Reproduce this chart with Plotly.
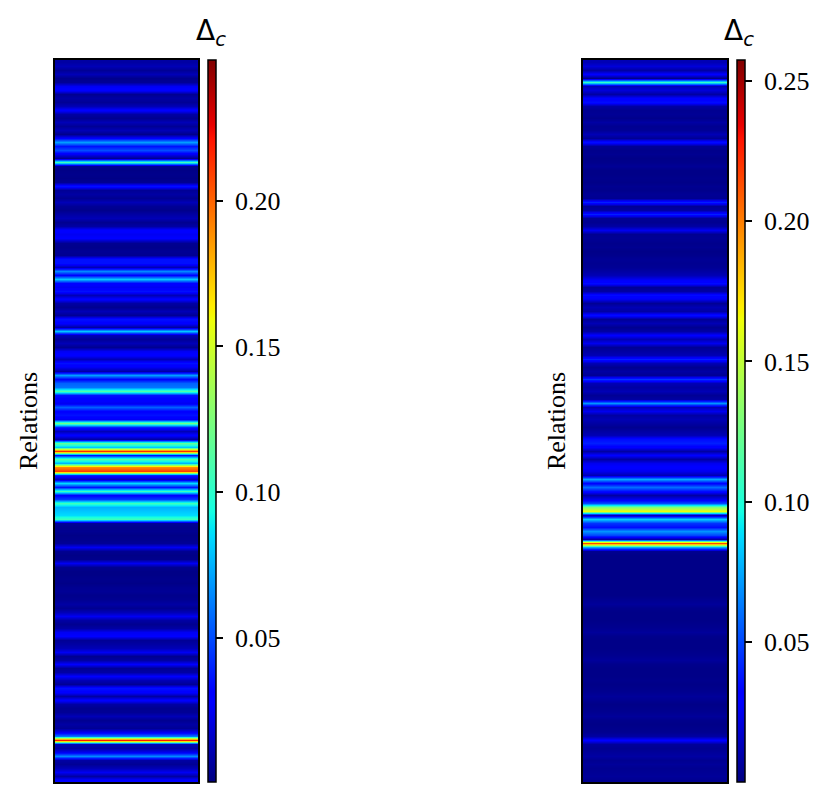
import plotly.graph_objects as go

# Δc par relation, lus de haut en bas (ligne 0 = haut)
delta_gauche = [
    0.008, 0.012, 0.005, 0.012, 0.003, 0.005, 0.025, 0.03, 0.004, 0.008,
    0.005, 0.012, 0.03, 0.008, 0.004, 0.012, 0.005, 0.012, 0.003, 0.03,
    0.07, 0.035, 0.05, 0.025, 0.005, 0.105, 0.004, 0.002, 0.003, 0.002,
    0.004, 0.035, 0.005, 0.008, 0.004, 0.012, 0.005, 0.003, 0.008, 0.012,
    0.004, 0.008, 0.03, 0.025, 0.028, 0.004, 0.003, 0.005, 0.004, 0.035,
    0.035, 0.012, 0.065, 0.03, 0.08, 0.03, 0.025, 0.035, 0.012, 0.03,
    0.008, 0.004, 0.012, 0.005, 0.035, 0.03, 0.008, 0.08, 0.012, 0.005,
    0.012, 0.004, 0.025, 0.03, 0.012, 0.035, 0.025, 0.008, 0.07, 0.03,
    0.055, 0.06, 0.11, 0.035, 0.03, 0.025, 0.055, 0.03, 0.035, 0.025,
    0.12, 0.04, 0.012, 0.03, 0.008, 0.115, 0.08, 0.215, 0.035, 0.11,
    0.075, 0.19, 0.21, 0.04, 0.012, 0.085, 0.035, 0.105, 0.03, 0.045,
    0.105, 0.075, 0.08, 0.085, 0.105, 0.005, 0.003, 0.004, 0.002, 0.003,
    0.005, 0.025, 0.004, 0.002, 0.003, 0.025, 0.004, 0.002, 0.002, 0.003,
    0.002, 0.004, 0.005, 0.003, 0.004, 0.008, 0.004, 0.012, 0.025, 0.008,
    0.004, 0.008, 0.025, 0.028, 0.005, 0.008, 0.012, 0.025, 0.004, 0.008,
    0.028, 0.005, 0.008, 0.028, 0.012, 0.005, 0.035, 0.03, 0.008, 0.03,
    0.008, 0.004, 0.005, 0.012, 0.004, 0.008, 0.005, 0.025, 0.06, 0.22,
    0.012, 0.008, 0.025, 0.065, 0.008, 0.005, 0.012, 0.025, 0.008, 0.03,
]

delta_droite = [
    0.012, 0.02, 0.008, 0.03, 0.003, 0.105, 0.012, 0.02, 0.008, 0.03,
    0.035, 0.008, 0.004, 0.005, 0.003, 0.008, 0.004, 0.005, 0.012, 0.005,
    0.035, 0.005, 0.003, 0.004, 0.002, 0.003, 0.005, 0.002, 0.002, 0.003,
    0.002, 0.004, 0.003, 0.005, 0.004, 0.04, 0.005, 0.008, 0.04, 0.005,
    0.004, 0.008, 0.025, 0.004, 0.005, 0.003, 0.004, 0.002, 0.003, 0.005,
    0.004, 0.005, 0.008, 0.012, 0.025, 0.035, 0.005, 0.008, 0.035, 0.025,
    0.005, 0.012, 0.008, 0.035, 0.005, 0.012, 0.004, 0.008, 0.03, 0.012,
    0.025, 0.005, 0.008, 0.012, 0.04, 0.012, 0.004, 0.008, 0.005, 0.045,
    0.012, 0.008, 0.012, 0.005, 0.008, 0.07, 0.012, 0.025, 0.008, 0.012,
    0.008, 0.004, 0.008, 0.012, 0.035, 0.04, 0.03, 0.008, 0.03, 0.008,
    0.025, 0.03, 0.025, 0.012, 0.075, 0.03, 0.06, 0.035, 0.008, 0.025,
    0.05, 0.13, 0.165, 0.012, 0.085, 0.045, 0.035, 0.07, 0.05, 0.008,
    0.215, 0.075, 0.004, 0.002, 0.002, 0.002, 0.002, 0.002, 0.002, 0.002,
    0.002, 0.002, 0.002, 0.002, 0.004, 0.006, 0.003, 0.002, 0.002, 0.002,
    0.003, 0.004, 0.006, 0.003, 0.002, 0.002, 0.002, 0.003, 0.004, 0.006,
    0.003, 0.002, 0.002, 0.002, 0.003, 0.002, 0.003, 0.004, 0.006, 0.004,
    0.002, 0.003, 0.004, 0.006, 0.003, 0.002, 0.003, 0.004, 0.008, 0.03,
    0.006, 0.004, 0.006, 0.008, 0.004, 0.006, 0.004, 0.005, 0.006, 0.004,
]

ticks_gauche = [0.05, 0.10, 0.15, 0.20]
ticks_droite = [0.05, 0.10, 0.15, 0.20, 0.25]
bornes_gauche = (0.0004, 0.2484)
bornes_droite = (0.0003, 0.2573)

# jet de matplotlib
jet = [
    [0.0, "rgb(0,0,128)"], [0.11, "rgb(0,0,255)"], [0.125, "rgb(0,0,255)"],
    [0.34, "rgb(0,219,255)"], [0.35, "rgb(0,230,247)"], [0.375, "rgb(21,255,226)"],
    [0.64, "rgb(239,255,8)"], [0.65, "rgb(247,245,0)"], [0.66, "rgb(255,236,0)"],
    [0.89, "rgb(255,19,0)"], [0.91, "rgb(232,0,0)"], [1.0, "rgb(128,0,0)"],
]

# la page ajoute une marge de 8 px autour de la figure
M = 8
W, H = 831 - M, 812 - M
police_serif = dict(family="Liberation Serif", size=26, color="black")


def px_x(p):
    return (p - M) / W


def px_y(p):
    return 1 - (p - M) / H


def carte(valeurs, bornes, ticks, xa, ya, x_cb):
    return go.Heatmap(
        z=[[v, v] for v in valeurs],
        x=[0, 1],
        y=list(range(len(valeurs))),
        colorscale=jet,
        zmin=bornes[0], zmax=bornes[1],
        zsmooth="best",
        xaxis=xa, yaxis=ya,
        hoverinfo="skip",
        colorbar=dict(
            x=px_x(x_cb), xanchor="left", xref="paper",
            y=px_y(421), yanchor="middle",
            len=722, lenmode="pixels",
            thickness=8, thicknessmode="pixels",
            xpad=0, ypad=0,
            outlinewidth=1.5, outlinecolor="black",
            ticks="outside", ticklen=7, tickwidth=1.5, tickcolor="black",
            tickvals=ticks, ticktext=["\u00a0" + f"{t:.2f}" for t in ticks],
            tickfont=police_serif,
        ),
    )


fig = go.Figure()
fig.add_trace(carte(delta_gauche, bornes_gauche, ticks_gauche, "x", "y", 208))
fig.add_trace(carte(delta_droite, bornes_droite, ticks_droite, "x2", "y2", 737))

axe_x = dict(showticklabels=False, ticks="", showgrid=False, zeroline=False,
             showline=True, mirror=True, linecolor="black", linewidth=1.5,
             range=[0, 1])
axe_y = dict(showticklabels=False, ticks="", showgrid=False, zeroline=False,
             showline=True, mirror=True, linecolor="black", linewidth=1.5,
             range=[len(delta_gauche) - 0.5, -0.5], domain=[px_y(782), px_y(60)],
             title=dict(text="Relations", font=police_serif, standoff=8))

fig.update_layout(
    width=W, height=H,
    margin=dict(l=0, r=0, t=0, b=0, autoexpand=False),
    paper_bgcolor="white", plot_bgcolor="white",
    showlegend=False,
    xaxis=dict(axe_x, domain=[px_x(55), px_x(198)]),
    yaxis=dict(axe_y, anchor="x"),
    xaxis2=dict(axe_x, domain=[px_x(583), px_x(727)], anchor="y2"),
    yaxis2=dict(axe_y, anchor="x2"),
)

for xc in (194, 722):
    fig.add_annotation(
        text="Δ<sub><i>c</i></sub>", x=px_x(xc), y=px_y(12),
        xref="paper", yref="paper", xanchor="left", yanchor="top",
        showarrow=False,
        font=dict(family="DejaVu Sans", size=28, color="black"),
    )

fig.write_html("out.html")
